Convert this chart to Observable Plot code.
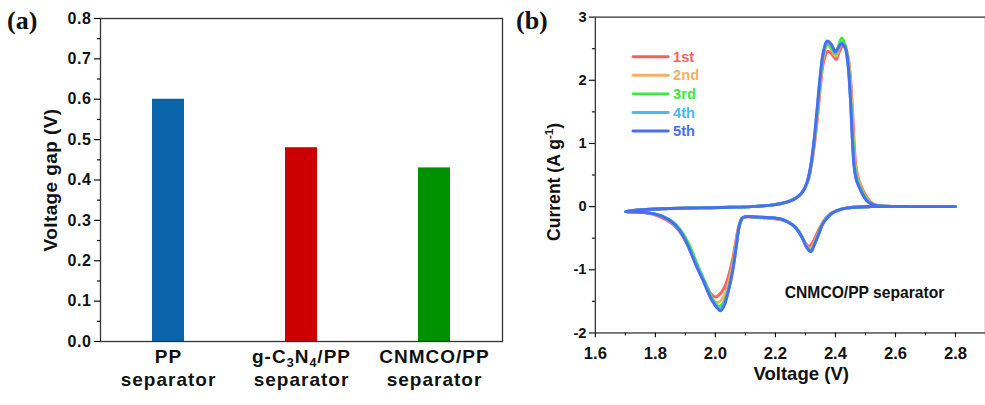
<!DOCTYPE html>
<html><head><meta charset="utf-8">
<script src="https://cdn.jsdelivr.net/npm/d3@7"></script>
<script src="https://cdn.jsdelivr.net/npm/@observablehq/plot@0.6"></script>
<style>
html,body{margin:0;padding:0;background:#fff;}
#wrap{position:relative;width:985px;height:405px;overflow:hidden;background:#fff;font-family:"Liberation Sans",Arial,sans-serif;}
.panel{position:absolute;top:0;}
.plabel{position:absolute;font-family:"Liberation Serif","Times New Roman",serif;font-weight:bold;font-size:26px;line-height:26px;color:#111;}
svg text{font-weight:bold;}
#pa g[aria-label="x-axis tick label"] text{letter-spacing:1px;}
#pa g[aria-label="y-axis tick label"] text{letter-spacing:0.6px;}
#pa g[aria-label="text"] text{letter-spacing:0.4px;}
</style></head><body>
<div id="wrap">
  <div id="pa" class="panel" style="left:0px"></div>
  <div id="pb" class="panel" style="left:500px"></div>
  <div class="plabel" style="left:7px;top:8px">(a)</div>
  <div class="plabel" style="left:516px;top:8px">(b)</div>
</div>
<script>
// ---------- Panel (a) data ----------
const categories = ["PP", "g-C3N4/PP", "CNMCO/PP"];
const categoryLabels = ["PP\nseparator", "g-C3N4/PP\nseparator", "CNMCO/PP\nseparator"];
const voltageGap = [0.60, 0.48, 0.43];
const barColors = ["#0a64aa", "#cc0000", "#009100"];
const yTicksA = [0, 0.1, 0.2, 0.3, 0.4, 0.5, 0.6, 0.7, 0.8];
const yMinorA = [0.05, 0.15, 0.25, 0.35, 0.45, 0.55, 0.65, 0.75];
const yLabelA = "Voltage gap (V)";

// ---------- Panel (b) data ----------
const cycles = ["1st", "2nd", "3rd", "4th", "5th"];
const cycleColors = ["#f26464", "#f4b066", "#3ee83e", "#4ab8f6", "#4a6ef2"];
const xTicksB = [1.6, 1.8, 2.0, 2.2, 2.4, 2.6, 2.8];
const xMinorB = [1.7, 1.9, 2.1, 2.3, 2.5, 2.7, 2.9];
const yTicksB = [-2, -1, 0, 1, 2, 3];
const yMinorB = [-1.5, -0.5, 0.5, 1.5, 2.5];
const xLabelB = "Voltage (V)";
const yLabelB = "Current (A g-1)";
const noteB = "CNMCO/PP separator";

// each cycle: cathodic scan 2.8 -> 1.7 then anodic scan 1.7 -> 2.8 ; [V, I]
const cv1st = [[2.80,0],[2.70,0],[2.60,0],[2.52,0],[2.46,-0.01],[2.42,-0.04],[2.39,-0.09],[2.37,-0.17],[2.355,-0.27],[2.34,-0.41],[2.325,-0.56],[2.312,-0.63],[2.30,-0.58],[2.285,-0.45],[2.27,-0.35],[2.255,-0.28],[2.235,-0.23],[2.21,-0.20],[2.17,-0.18],[2.13,-0.17],[2.10,-0.165],[2.088,-0.19],[2.078,-0.30],[2.068,-0.55],[2.058,-0.82],[2.046,-1.06],[2.034,-1.24],[2.02,-1.36],[2.0,-1.43],[1.985,-1.38],[1.97,-1.25],[1.955,-1.10],[1.935,-0.90],[1.915,-0.68],[1.895,-0.50],[1.875,-0.36],[1.85,-0.25],[1.82,-0.17],[1.79,-0.12],[1.76,-0.095],[1.73,-0.085],[1.70,-0.08],
  [1.72,-0.065],[1.77,-0.045],[1.85,-0.03],[1.95,-0.02],[2.05,-0.01],[2.12,0.0],[2.18,0.02],[2.22,0.05],[2.25,0.09],[2.27,0.14],[2.29,0.23],[2.31,0.42],[2.32,0.66],[2.33,0.98],[2.34,1.40],[2.35,1.90],[2.36,2.28],[2.375,2.46],[2.39,2.40],[2.402,2.33],[2.413,2.45],[2.426,2.55],[2.438,2.45],[2.448,2.15],[2.456,1.60],[2.462,1.05],[2.468,0.65],[2.476,0.45],[2.486,0.32],[2.496,0.22],[2.506,0.14],[2.516,0.08],[2.528,0.04],[2.545,0.015],[2.57,0.005],[2.65,0],[2.80,0]];
const cv2nd = [[2.80,0],[2.70,0],[2.60,0],[2.52,0],[2.46,-0.01],[2.42,-0.04],[2.39,-0.095],[2.37,-0.18],[2.355,-0.28],[2.342,-0.43],[2.328,-0.58],[2.315,-0.67],[2.302,-0.61],[2.288,-0.47],[2.273,-0.36],[2.258,-0.29],[2.238,-0.235],[2.215,-0.20],[2.175,-0.178],[2.135,-0.168],[2.10,-0.162],[2.089,-0.185],[2.079,-0.30],[2.069,-0.58],[2.059,-0.88],[2.048,-1.13],[2.037,-1.32],[2.025,-1.45],[2.006,-1.52],[1.99,-1.46],[1.975,-1.32],[1.96,-1.15],[1.94,-0.95],[1.92,-0.72],[1.90,-0.52],[1.88,-0.37],[1.86,-0.26],[1.83,-0.17],[1.80,-0.12],[1.77,-0.095],[1.73,-0.085],[1.70,-0.08],
  [1.72,-0.065],[1.77,-0.045],[1.85,-0.03],[1.95,-0.02],[2.05,-0.01],[2.12,0.0],[2.18,0.02],[2.22,0.05],[2.25,0.09],[2.27,0.14],[2.29,0.23],[2.31,0.43],[2.32,0.68],[2.33,1.02],[2.34,1.45],[2.35,1.98],[2.36,2.36],[2.373,2.55],[2.388,2.48],[2.401,2.38],[2.412,2.50],[2.424,2.60],[2.436,2.50],[2.446,2.22],[2.454,1.65],[2.46,1.08],[2.466,0.66],[2.474,0.45],[2.484,0.32],[2.494,0.21],[2.504,0.13],[2.514,0.075],[2.526,0.04],[2.542,0.015],[2.565,0.005],[2.65,0],[2.80,0]];
const cv3rd = [[2.80,0],[2.70,0],[2.60,0],[2.52,0],[2.46,-0.01],[2.42,-0.04],[2.39,-0.10],[2.37,-0.19],[2.355,-0.29],[2.343,-0.44],[2.33,-0.59],[2.317,-0.70],[2.304,-0.64],[2.29,-0.49],[2.275,-0.37],[2.26,-0.30],[2.24,-0.24],[2.22,-0.20],[2.18,-0.175],[2.14,-0.165],[2.10,-0.16],[2.09,-0.18],[2.08,-0.30],[2.07,-0.60],[2.06,-0.92],[2.05,-1.17],[2.04,-1.37],[2.028,-1.51],[2.012,-1.58],[1.998,-1.52],[1.983,-1.39],[1.968,-1.22],[1.95,-1.03],[1.93,-0.80],[1.91,-0.58],[1.89,-0.41],[1.87,-0.29],[1.845,-0.20],[1.815,-0.14],[1.785,-0.105],[1.75,-0.088],[1.70,-0.08],
  [1.72,-0.065],[1.77,-0.045],[1.85,-0.03],[1.95,-0.02],[2.05,-0.01],[2.12,0.0],[2.18,0.02],[2.22,0.05],[2.25,0.09],[2.27,0.14],[2.29,0.23],[2.31,0.44],[2.32,0.70],[2.33,1.06],[2.34,1.52],[2.35,2.05],[2.36,2.42],[2.372,2.58],[2.386,2.52],[2.40,2.42],[2.411,2.55],[2.421,2.67],[2.433,2.55],[2.443,2.25],[2.451,1.68],[2.458,1.10],[2.464,0.66],[2.472,0.44],[2.482,0.31],[2.492,0.21],[2.502,0.13],[2.512,0.075],[2.524,0.04],[2.54,0.015],[2.562,0.005],[2.65,0],[2.80,0]];
const cv4th = [[2.80,0],[2.70,0],[2.60,0],[2.52,0],[2.46,-0.01],[2.42,-0.04],[2.39,-0.10],[2.37,-0.19],[2.355,-0.30],[2.343,-0.45],[2.33,-0.60],[2.318,-0.71],[2.305,-0.65],[2.29,-0.50],[2.275,-0.38],[2.26,-0.30],[2.24,-0.24],[2.22,-0.20],[2.18,-0.175],[2.14,-0.165],[2.10,-0.16],[2.09,-0.18],[2.08,-0.30],[2.07,-0.61],[2.06,-0.94],[2.05,-1.19],[2.04,-1.39],[2.029,-1.54],[2.015,-1.63],[2.002,-1.57],[1.988,-1.46],[1.973,-1.31],[1.957,-1.13],[1.937,-0.92],[1.917,-0.70],[1.897,-0.50],[1.877,-0.35],[1.855,-0.245],[1.825,-0.16],[1.795,-0.115],[1.76,-0.09],[1.73,-0.083],[1.70,-0.08],
  [1.72,-0.065],[1.77,-0.045],[1.85,-0.03],[1.95,-0.02],[2.05,-0.01],[2.12,0.0],[2.18,0.02],[2.22,0.05],[2.25,0.09],[2.27,0.14],[2.29,0.23],[2.305,0.38],[2.318,0.66],[2.33,1.10],[2.34,1.58],[2.35,2.08],[2.36,2.45],[2.372,2.61],[2.386,2.56],[2.40,2.44],[2.41,2.52],[2.42,2.60],[2.432,2.52],[2.442,2.24],[2.45,1.70],[2.456,1.10],[2.462,0.65],[2.47,0.42],[2.48,0.30],[2.49,0.20],[2.50,0.12],[2.51,0.07],[2.52,0.04],[2.535,0.015],[2.56,0.005],[2.65,0],[2.80,0]];
const cv5th = [[2.80,0],[2.70,0],[2.60,0],[2.52,0],[2.46,-0.01],[2.42,-0.04],[2.39,-0.10],[2.37,-0.19],[2.355,-0.30],[2.343,-0.45],[2.33,-0.60],[2.318,-0.71],[2.305,-0.65],[2.29,-0.50],[2.275,-0.38],[2.26,-0.30],[2.24,-0.24],[2.22,-0.20],[2.18,-0.175],[2.14,-0.165],[2.10,-0.16],[2.09,-0.18],[2.08,-0.30],[2.07,-0.62],[2.06,-0.95],[2.05,-1.20],[2.04,-1.40],[2.03,-1.56],[2.017,-1.65],[2.005,-1.60],[1.99,-1.50],[1.975,-1.35],[1.96,-1.18],[1.94,-0.98],[1.92,-0.75],[1.90,-0.53],[1.88,-0.37],[1.86,-0.26],[1.83,-0.17],[1.80,-0.12],[1.77,-0.095],[1.73,-0.085],[1.70,-0.08],
  [1.72,-0.065],[1.77,-0.045],[1.85,-0.03],[1.95,-0.02],[2.05,-0.01],[2.12,0.0],[2.18,0.02],[2.22,0.05],[2.25,0.09],[2.27,0.14],[2.29,0.23],[2.305,0.38],[2.318,0.65],[2.33,1.10],[2.34,1.60],[2.35,2.10],[2.36,2.45],[2.372,2.62],[2.385,2.58],[2.40,2.45],[2.41,2.52],[2.42,2.58],[2.432,2.52],[2.442,2.25],[2.45,1.70],[2.456,1.10],[2.462,0.65],[2.47,0.42],[2.48,0.30],[2.49,0.20],[2.50,0.12],[2.51,0.07],[2.52,0.04],[2.535,0.015],[2.56,0.005],[2.65,0],[2.80,0]];
const cvSeries = [cv1st, cv2nd, cv3rd, cv4th, cv5th];

// ---------- helpers ----------
const FONT = '"Liberation Sans", Arial, Helvetica, sans-serif';
const SVGNS = "http://www.w3.org/2000/svg";
function richify(root, plain, parts) {
  root.querySelectorAll("text, tspan").forEach(el => {
    if (el.children.length === 0 && el.textContent === plain) {
      el.textContent = "";
      let cur = 0;
      parts.forEach(p => {
        const t = document.createElementNS(SVGNS, "tspan");
        t.textContent = p.s;
        const target = p.shift || 0;
        if (target !== cur) t.setAttribute("dy", target - cur);
        cur = target;
        if (p.small) t.setAttribute("font-size", "0.66em");
        el.appendChild(t);
      });
    }
  });
}

// ---------- Panel (a) ----------
const barData = categories.map((c, i) => ({cat: c, gap: voltageGap[i], color: barColors[i]}));
const plotA = Plot.plot({
  width: 505, height: 405,
  marginLeft: 100, marginRight: 3, marginTop: 18, marginBottom: 64,
  x: {domain: categories, paddingInner: 0.76, paddingOuter: 0.386, align: 0.5},
  y: {domain: [0, 0.8]},
  color: {type: "identity"},
  style: {fontFamily: FONT, fontWeight: "bold", color: "#111", background: "transparent", overflow: "visible"},
  marks: [
    Plot.barY(barData, {x: "cat", y: "gap", fill: "color"}),
    Plot.frame({stroke: "#333", strokeWidth: 1.3}),
    Plot.axisY({ticks: yTicksA, tickFormat: d => d.toFixed(1), tickSize: 6, tickPadding: 3, fontSize: 16, label: null, strokeWidth: 1.2}),
    Plot.axisY({ticks: yMinorA, tickFormat: () => "", tickSize: 3, label: null, strokeWidth: 1.2}),
    Plot.axisX({tickSize: 0, tickPadding: 6, fontSize: 19, lineHeight: 1.18, tickFormat: d => categoryLabels[categories.indexOf(d)], label: null}),
    Plot.text([yLabelA], {frameAnchor: "left", y: [0.4], dx: -50, rotate: -90, textAnchor: "middle", lineAnchor: "middle", fontSize: 19, fill: "#111"})
  ]
});
document.getElementById("pa").appendChild(plotA);
richify(plotA, "g-C3N4/PP", [{s: "g-C"}, {s: "3", shift: 4, small: true}, {s: "N"}, {s: "4", shift: 4, small: true}, {s: "/PP"}]);

// ---------- Panel (b) ----------
const cvRows = cycles.flatMap((c, k) => cvSeries[k].map(([v, i]) => ({cycle: c, v, i, color: cycleColors[k]})));
const plotB = Plot.plot({
  width: 496, height: 405,
  marginLeft: 97, marginRight: 0, marginTop: 17, marginBottom: 65,
  x: {domain: [1.6, 2.9]},
  y: {domain: [-2, 3]},
  color: {type: "identity"},
  style: {fontFamily: FONT, fontWeight: "bold", color: "#111", background: "transparent", overflow: "visible"},
  marks: [
    Plot.line(cvRows, {x: "v", y: "i", z: "cycle", stroke: "color", strokeWidth: 3, curve: "catmull-rom", strokeLinejoin: "round"}),
    Plot.frame({stroke: "#333", strokeWidth: 1.3}),
    Plot.axisY({ticks: yTicksB, tickFormat: d => String(d), tickSize: 6, tickPadding: 3, fontSize: 15, label: null, strokeWidth: 1.2}),
    Plot.axisY({ticks: yMinorB, tickFormat: () => "", tickSize: 3, label: null, strokeWidth: 1.2}),
    Plot.axisX({ticks: xTicksB, tickFormat: d => d.toFixed(1), tickSize: 5, tickPadding: 10, fontSize: 17, label: null, strokeWidth: 1.2}),
    Plot.axisX({ticks: xMinorB, tickFormat: () => "", tickSize: 3, label: null, strokeWidth: 1.2}),
    Plot.text([xLabelB], {frameAnchor: "bottom", x: [2.286], dy: 42, lineAnchor: "middle", textAnchor: "middle", fontSize: 19, fill: "#111"}),
    Plot.text([yLabelB], {frameAnchor: "left", y: [0.39], dx: -42, rotate: -90, textAnchor: "middle", lineAnchor: "middle", fontSize: 18, fill: "#111"}),
    Plot.text([noteB], {x: [2.497], y: [-1.36], fontSize: 16, fill: "#111"})
  ]
});
document.getElementById("pb").appendChild(plotB);
richify(plotB, yLabelB, [{s: "Current (A g"}, {s: "-1", shift: -7, small: true}, {s: ")", shift: 0}]);

// legend (b)
const lg = d3.select(plotB).append("g").attr("font-family", FONT).attr("font-weight", "bold").attr("font-size", 15).attr("text-anchor", "start");
cycles.forEach((c, k) => {
  const yy = 58 + k * 19;
  lg.append("line").attr("x1", 136).attr("x2", 172).attr("y1", yy).attr("y2", yy)
    .attr("stroke", cycleColors[k]).attr("stroke-width", 3).attr("stroke-linecap", "round");
  lg.append("text").attr("x", 177).attr("y", yy).attr("dy", "0.35em").attr("text-anchor", "start").attr("fill", cycleColors[k]).text(c);
});
</script>
</body></html>
